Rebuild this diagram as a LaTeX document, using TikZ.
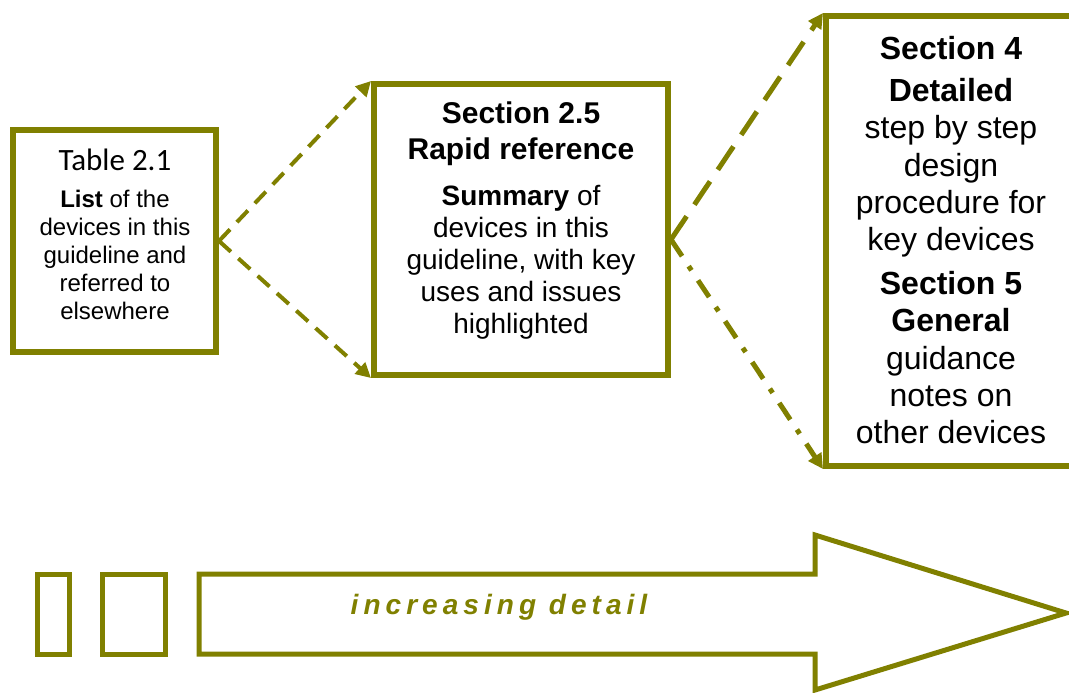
\documentclass[tikz,border=0pt]{standalone}
\usepackage{fontspec}
\setmainfont{Liberation Sans}
\newfontfamily\tablefont{Carlito}
\newfontfamily\spacedfont[LetterSpace=18]{Liberation Sans}
\usetikzlibrary{arrows.meta}
\definecolor{olivegreen}{RGB}{128,128,0}
\tikzstyle{box} = [draw=olivegreen, line width=3pt, inner sep=0pt]
\tikzstyle{arrow} = [-{Triangle[length=7.5pt,width=7.5pt]}, olivegreen]
\tikzstyle{boxtext} = [align=center, inner sep=0pt]

\begin{document}
\begin{tikzpicture}[x=0.5pt, y=-0.5pt]
        \useasboundingbox (0,0) rectangle (1069,692);
        % boxes
        \node[box, minimum width=101.5pt, minimum height=111pt] at (114.5,241) (list) {};
        \node[box, minimum width=147pt, minimum height=145.5pt] at (521,229.5) (rapid) {};
        \node[box, minimum width=125pt, minimum height=225pt] at (951,241) (detail) {};

        % texts
        \node[boxtext, font=\tablefont\fontsize{15.5}{18}\selectfont] at (115,160) (listtitle) {Table 2.1};
        \node[boxtext, font=\fontsize{12}{14}\selectfont] at (115,255) (listbody)
            {\textbf{List} of the\\ devices in this\\ guideline and\\ referred to\\ elsewhere};
        \node[boxtext, font=\bfseries\fontsize{15}{18}\selectfont] at (521,134) (rapidtitle)
            {Section 2.5\\ Rapid reference};
        \node[boxtext, font=\fontsize{14}{16}\selectfont] at (521,262) (rapidbody)
            {\textbf{Summary} of\\ devices in this\\ guideline, with key\\ uses and issues\\ highlighted};
        \node[boxtext, font=\fontsize{16}{18.6}\selectfont] at (951,240) (detailbody)
            {\textbf{Section 4}\\[2.5pt] \textbf{Detailed}\\ step by step\\ design\\ procedure for\\ key devices\\[3.5pt]
             \textbf{Section 5}\\ \textbf{General}\\ guidance\\ notes on\\ other devices};

        % connectors
        \coordinate (fork) at ([yshift=-5pt]rapid.east);
        \draw[arrow, line width=2pt, dash pattern=on 8pt off 5pt] (list.east) -- (rapid.north west);
        \draw[arrow, line width=2pt, dash pattern=on 8pt off 5pt] (list.east) -- (rapid.south west);
        \draw[arrow, line width=2.5pt, dash pattern=on 14pt off 7pt] (fork) -- (detail.north west);
        \draw[arrow, line width=2.5pt, dash pattern=on 10pt off 6pt on 2.5pt off 6pt] (fork) -- (detail.south west);

        % increasing detail
        \draw[olivegreen, line width=2.5pt] (37,574) rectangle (69,654);
        \draw[olivegreen, line width=2.5pt] (102,574) rectangle (165,654);
        \draw[olivegreen, line width=2.5pt] (199,574) -- (815,574) -- (815,535) -- (1066,613)
            -- (815,690) -- (815,654) -- (199,654) -- cycle;
        \node[olivegreen, font=\spacedfont\bfseries\itshape\fontsize{14}{16}\selectfont] at (499,607) (detailtext)
            {increasing detail};
    \end{tikzpicture}
\end{document}
